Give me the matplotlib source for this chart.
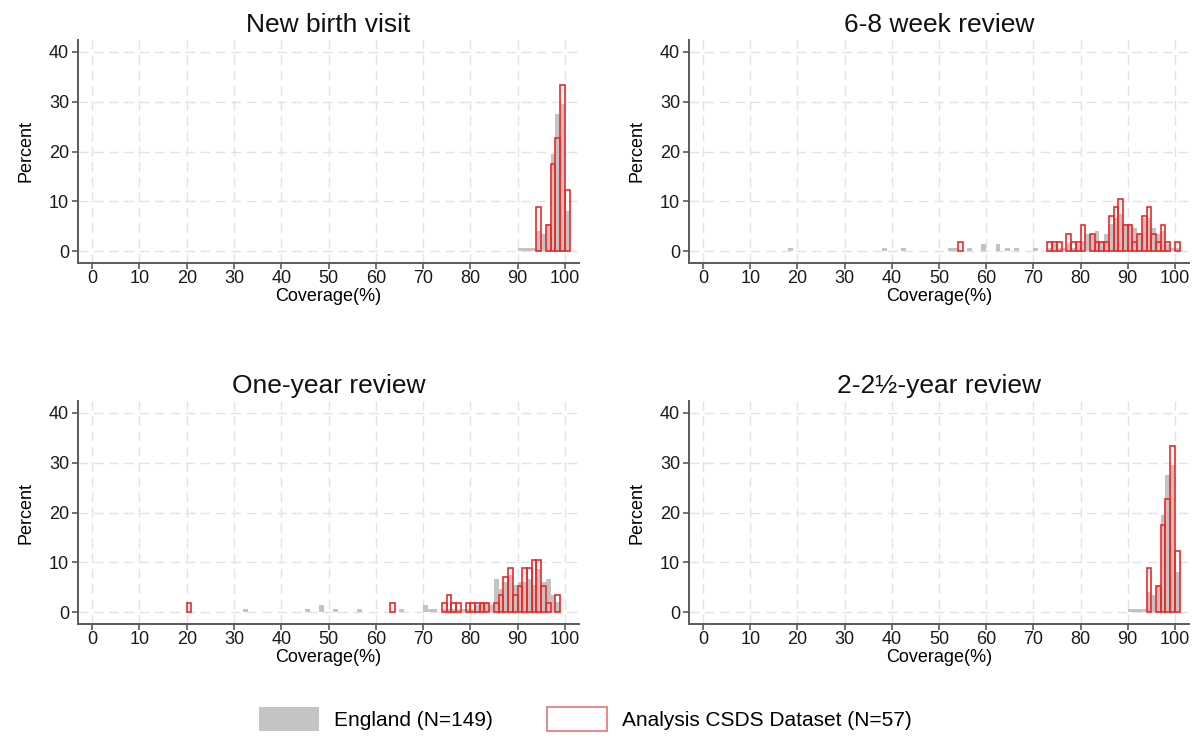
import matplotlib
matplotlib.use("Agg")
import matplotlib.pyplot as plt
from matplotlib.patches import Patch

plt.rcParams['font.family'] = ['Liberation Sans', 'DejaVu Sans']

# ---- data: bin start (coverage %) and percent of areas in each 1-point bin ----
titles = ["New birth visit", "6-8 week review", "One-year review", "2-2½-year review"]

# New birth visit
nbv_eng_x = [90, 91, 92, 93, 94, 95, 96, 97, 98, 99, 100]
nbv_eng_y = [0.67, 0.67, 0.67, 0.67, 4.03, 3.36, 5.37, 19.46, 27.52, 29.53, 8.05]
nbv_csds_x = [94, 96, 97, 98, 99, 100]
nbv_csds_y = [8.77, 5.26, 17.54, 22.81, 33.33, 12.28]

# 6-8 week review
w68_eng_x = [18, 38, 42, 52, 53, 56, 59, 62, 64, 66, 70, 73, 74, 75, 76, 77, 78, 79, 80,
             81, 82, 83, 84, 85, 86, 87, 88, 89, 90, 91, 92, 93, 94, 95, 96, 97, 98, 99, 100]
w68_eng_y = [0.67, 0.67, 0.67, 0.67, 0.67, 0.67, 1.34, 1.34, 0.67, 0.67, 0.67, 0.67, 1.34,
             0.67, 0.67, 1.34, 0.67, 1.34, 2.01, 3.36, 3.36, 4.03, 2.01, 3.36, 5.37, 6.71,
             7.38, 5.37, 5.37, 4.70, 3.36, 6.71, 6.71, 4.70, 3.36, 4.03, 1.34, 0.67, 0.67]
w68_csds_x = [54, 73, 74, 75, 77, 78, 79, 80, 82, 83, 84, 85, 86, 87, 88, 89, 90, 91, 92,
              93, 94, 95, 96, 97, 98, 100]
w68_csds_y = [1.75, 1.75, 1.75, 1.75, 3.51, 1.75, 1.75, 5.26, 3.51, 1.75, 1.75, 1.75, 7.02,
              8.77, 10.53, 5.26, 5.26, 1.75, 3.51, 7.02, 8.77, 3.51, 1.75, 5.26, 1.75, 1.75]

# One-year review
y1_eng_x = [32, 45, 48, 51, 56, 65, 70, 71, 72, 74, 75, 76, 77, 78, 79, 80, 81, 82, 83, 84,
            85, 86, 87, 88, 89, 90, 91, 92, 93, 94, 95, 96, 97, 98]
y1_eng_y = [0.67, 0.67, 1.34, 0.67, 0.67, 0.67, 1.34, 0.67, 0.67, 0.67, 0.67, 0.67, 0.67,
            0.67, 0.67, 0.67, 1.34, 2.01, 2.01, 1.34, 6.71, 4.70, 6.04, 7.38, 5.37, 6.04,
            6.04, 6.71, 5.37, 8.72, 6.04, 6.71, 3.36, 2.01]
y1_csds_x = [20, 63, 74, 75, 76, 77, 79, 80, 81, 82, 83, 85, 86, 87, 88, 89, 90, 91, 92, 93,
             94, 95, 96, 98]
y1_csds_y = [1.75, 1.75, 1.75, 3.51, 1.75, 1.75, 1.75, 1.75, 1.75, 1.75, 1.75, 1.75, 3.51,
             7.02, 8.77, 3.51, 5.26, 8.77, 8.77, 10.53, 10.53, 5.26, 1.75, 3.51]

# 2-2½-year review
y2_eng_x = [90, 91, 92, 93, 94, 95, 96, 97, 98, 99, 100]
y2_eng_y = [0.67, 0.67, 0.67, 0.67, 4.03, 3.36, 5.37, 19.46, 27.52, 29.53, 8.05]
y2_csds_x = [94, 96, 97, 98, 99, 100]
y2_csds_y = [8.77, 5.26, 17.54, 22.81, 33.33, 12.28]

panels = [
    (nbv_eng_x, nbv_eng_y, nbv_csds_x, nbv_csds_y),
    (w68_eng_x, w68_eng_y, w68_csds_x, w68_csds_y),
    (y1_eng_x, y1_eng_y, y1_csds_x, y1_csds_y),
    (y2_eng_x, y2_eng_y, y2_csds_x, y2_csds_y),
]

W, H = 1202, 740
fig = plt.figure(figsize=(W / 100, H / 100), dpi=100)

# axes boxes in pixels: left, top, right, bottom
boxes = [(78, 40, 579, 263), (689, 40, 1189, 263),
         (78, 401, 579, 624), (689, 401, 1189, 624)]

gray = '#bdbdbd'
red = '#f02828'
axis_col = '#5a5a5a'

for (l, t, r, b), title, (ex, ey, cx, cy) in zip(boxes, titles, panels):
    ax = fig.add_axes([l / W, 1 - b / H, (r - l) / W, (b - t) / H])
    ax.bar(ex, ey, width=1, align='edge', color=gray, edgecolor='none', alpha=0.9, zorder=2)
    ax.bar(cx, cy, width=1, align='edge', facecolor='none', edgecolor=red, linewidth=1.2, zorder=3)
    ax.set_xlim(-3, 103)
    ax.set_ylim(-2.4, 42.4)
    ax.set_xticks(range(0, 101, 10))
    ax.set_yticks(range(0, 41, 10))
    ax.grid(True, color='#e3e3e3', linestyle=(0, (7, 4)), linewidth=1.0, zorder=0)
    for s in ['top', 'right']:
        ax.spines[s].set_visible(False)
    for s in ['left', 'bottom']:
        ax.spines[s].set_color(axis_col)
        ax.spines[s].set_linewidth(1.4)
    ax.tick_params(colors=axis_col, labelcolor='#1a1a1a', length=4, width=1.2, labelsize=13)
    ax.tick_params(axis='x', pad=1)
    ax.tick_params(axis='y', pad=2.5)
    ax.set_title(title, fontsize=19, pad=6, color='#111111')
    ax.set_xlabel("Coverage(%)", fontsize=13, labelpad=1)
    ax.set_ylabel("Percent", fontsize=13, labelpad=10)

handles = [Patch(facecolor='#c4c4c4', edgecolor='none', label='England (N=149)'),
           Patch(facecolor='white', edgecolor='#f07070', linewidth=1.2,
                 label='Analysis CSDS Dataset (N=57)')]
fig.legend(handles=handles, loc='center', bbox_to_anchor=(0.487, 1 - 719 / H), ncol=2,
           frameon=False, fontsize=15, handlelength=2.9, handleheight=1.4,
           columnspacing=2.6, handletextpad=0.7)

fig.savefig("out.png", dpi=100)
